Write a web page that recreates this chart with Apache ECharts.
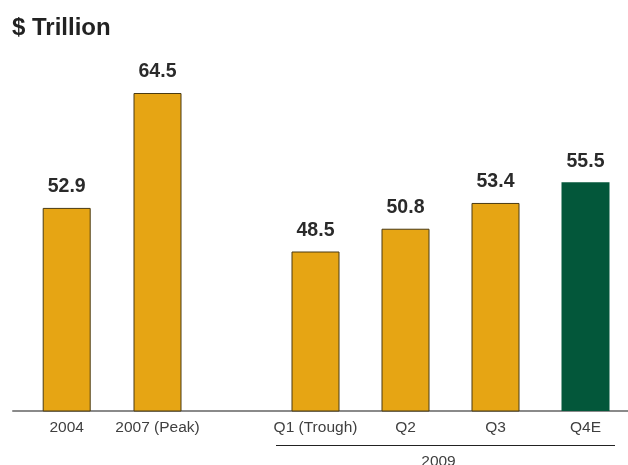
<!DOCTYPE html>
<html>
<head>
<meta charset="utf-8">
<script src="https://cdn.jsdelivr.net/npm/echarts@6/dist/echarts.min.js"></script>
<style>html,body{margin:0;padding:0;background:#fff}#c{width:628px;height:465px}</style>
</head>
<body>
<div id="c"></div>
<script>
const titleText = '$ Trillion';
const categoriesA = ['2004', '2007 (Peak)'];
const valuesA = [52.9, 64.5];
const categoriesB = ['Q1 (Trough)', 'Q2', 'Q3', 'Q4E'];
const valuesB = [48.5, 50.8, 53.4, 55.5];
const estimateCategory = 'Q4E';
const groupLabel = '2009';

const FONT = '"Liberation Sans", Arial, sans-serif';
const GOLD = '#E6A514';
const GREEN = '#03573A';
const yMin = 32.4, yMax = 64.5;

const chart = echarts.init(document.getElementById('c'), null, {renderer: 'canvas'});

function barData(cats, vals) {
  return vals.map((v, i) => ({
    value: v,
    itemStyle: cats[i] === estimateCategory
      ? {color: GREEN, borderColor: GREEN, borderWidth: 0}
      : {color: GOLD, borderColor: '#4a3a12', borderWidth: 1}
  }));
}

const xLabel = {color: '#3f3f3f', fontFamily: FONT, fontSize: 15.5, margin: 9, interval: 0};
const barLabel = {show: true, position: 'top', distance: 11, color: '#2a2a2a', fontFamily: FONT, fontSize: 19.5, fontWeight: 'bold', formatter: p => p.value.toFixed(1)};

chart.setOption({
  animation: false,
  backgroundColor: '#fff',
  title: {text: titleText, left: 7, top: 11, textStyle: {fontFamily: FONT, fontSize: 24, fontWeight: 'bold', color: '#222'}},
  grid: [
    {left: 66.7, width: 90.8, top: 93, bottom: 54},
    {left: 315.5, width: 270, top: 93, bottom: 54},
    {left: 13, right: 0, top: 93, bottom: 54}
  ],
  xAxis: [
    {gridIndex: 0, type: 'category', boundaryGap: false, data: categoriesA, axisLine: {show: false}, axisTick: {show: false}, axisLabel: xLabel, splitLine: {show: false}},
    {gridIndex: 1, type: 'category', boundaryGap: false, data: categoriesB, axisLine: {show: false}, axisTick: {show: false}, axisLabel: xLabel, splitLine: {show: false}},
    {gridIndex: 2, type: 'value', min: 0, max: 1, axisLine: {show: true, lineStyle: {color: '#8a8a8a', width: 2}}, axisTick: {show: false}, axisLabel: {show: false}, splitLine: {show: false}}
  ],
  yAxis: [
    {gridIndex: 0, type: 'value', min: yMin, max: yMax, show: false, splitLine: {show: false}},
    {gridIndex: 1, type: 'value', min: yMin, max: yMax, show: false, splitLine: {show: false}},
    {gridIndex: 2, type: 'value', min: 0, max: 1, show: false, splitLine: {show: false}}
  ],
  series: [
    {type: 'bar', xAxisIndex: 0, yAxisIndex: 0, barWidth: 48, data: barData(categoriesA, valuesA), label: barLabel, z: 3},
    {type: 'bar', xAxisIndex: 1, yAxisIndex: 1, barWidth: 48, data: barData(categoriesB, valuesB), label: barLabel, z: 3}
  ],
  graphic: [
    {type: 'line', shape: {x1: 276, y1: 445.5, x2: 615, y2: 445.5}, style: {stroke: '#222', lineWidth: 1}},
    {type: 'text', x: 438.5, y: 454, style: {text: groupLabel, fill: '#3f3f3f', font: '15.5px ' + FONT, textAlign: 'center', textVerticalAlign: 'top'}}
  ]
});
</script>
</body>
</html>
